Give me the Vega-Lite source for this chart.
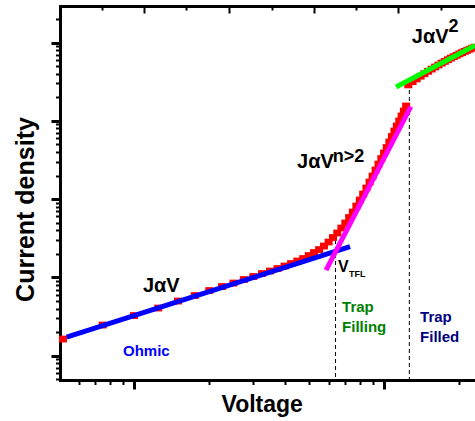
{
  "$schema": "https://vega.github.io/schema/vega-lite/v6.json",
  "width": 415,
  "height": 374,
  "autosize": {"type": "none"},
  "padding": {"left": 60, "top": 6, "right": 0, "bottom": 41},
  "background": "white",
  "config": {"view": {"stroke": null}, "font": "Liberation Sans"},
  "datasets": {
    "measured": [
      {"V":0.52,"J":1.634},{"V":0.75,"J":2.467},{"V":1.0,"J":3.261},{"V":1.25,"J":4.066},{"V":1.5,"J":4.996},
      {"V":1.75,"J":5.872},{"V":2.0,"J":6.803},{"V":2.25,"J":7.653},{"V":2.5,"J":8.482},{"V":2.75,"J":9.402},
      {"V":3.0,"J":10.27},{"V":3.25,"J":11.21},{"V":3.5,"J":12.07},{"V":3.75,"J":12.99},{"V":4.0,"J":13.98},
      {"V":4.25,"J":15.05},{"V":4.5,"J":16.2},{"V":4.75,"J":17.43},{"V":5.0,"J":19.04},{"V":5.25,"J":20.8},
      {"V":5.5,"J":22.71},{"V":5.75,"J":25.18},{"V":6.0,"J":28.32},{"V":6.25,"J":32.33},{"V":6.5,"J":36.9},
      {"V":6.75,"J":42.75},{"V":7.0,"J":49.52},{"V":7.25,"J":58.21},{"V":7.5,"J":68.42},{"V":7.75,"J":81.64},
      {"V":8.0,"J":97.39},{"V":8.25,"J":116.2},{"V":8.5,"J":138.6},{"V":8.75,"J":165.3},{"V":9.0,"J":197.2},
      {"V":9.25,"J":235.3},{"V":9.5,"J":280.7},{"V":9.75,"J":330.0},{"V":10.0,"J":388.0},{"V":10.25,"J":456.0},
      {"V":10.5,"J":536.3},{"V":10.75,"J":630.2},{"V":11.0,"J":741.0},{"V":11.25,"J":858.2},{"V":11.5,"J":994.3},
      {"V":11.75,"J":1152},{"V":12.0,"J":1334},{"V":12.25,"J":1545},
      {"V":12.5,"J":2873},{"V":13.0,"J":3158},{"V":13.5,"J":3429},{"V":14.0,"J":3712},{"V":14.5,"J":3995},
      {"V":15.0,"J":4288},{"V":15.5,"J":4575},{"V":16.0,"J":4866},{"V":16.5,"J":5160},{"V":17.0,"J":5457},
      {"V":17.5,"J":5736},{"V":18.0,"J":6030},{"V":18.5,"J":6321},{"V":19.0,"J":6586},{"V":19.5,"J":6863},
      {"V":20.0,"J":7152},{"V":20.5,"J":7408},{"V":21.0,"J":7696},{"V":21.5,"J":7950},{"V":22.0,"J":8211},
      {"V":22.5,"J":8456},{"V":23.0,"J":8710}
    ],
    "fits": [
      {"fit":"ohmic","V":0.538,"J":1.733},{"fit":"ohmic","V":7.311,"J":24.67},
      {"fit":"trapfill","V":5.861,"J":12.43},{"fit":"trapfill","V":12.79,"J":1514},
      {"fit":"trapfilled","V":11.17,"J":2702},{"fit":"trapfilled","V":23.1,"J":9157}
    ],
    "markers": [
      {"V":6.397,"J":30.04,"J0":0.49},{"V":12.62,"J":2474,"J0":0.49}
    ],
    "main": [
      {"V":1.086,"J":6.508,"t":"JαV"},{"V":4.487,"J":249.6,"t":"JαV"},{"V":12.91,"J":9768,"t":"JαV"}
    ],
    "sup": [
      {"V":6.233,"J":302.2,"t":"n>2"},{"V":18.08,"J":13500,"t":"2"}
    ],
    "vtfl": [{"V":6.546,"J":11.72,"t":"V"}],
    "sub": [{"V":7.244,"J":10.12,"t":"TFL"}],
    "ohmic": [{"V":0.9036,"J":0.991,"t":"Ohmic"}],
    "filling": [{"V":6.792,"J":3.647,"t":"Trap"},{"V":6.792,"J":2.025,"t":"Filling"}],
    "filled": [{"V":13.93,"J":2.718,"t":"Trap"},{"V":13.93,"J":1.510,"t":"Filled"}]
  },
  "encoding": {
    "x": {"field": "V", "type": "quantitative", "scale": {"type": "log", "domain": [0.506, 23.1], "nice": false}, "axis": null},
    "y": {"field": "J", "type": "quantitative", "scale": {"type": "log", "domain": [0.49, 29250], "nice": false}, "axis": null}
  },
  "layer": [
    {
      "data": {"name": "markers"},
      "mark": {"type": "rule", "color": "black", "strokeWidth": 1, "strokeDash": [4, 3]},
      "encoding": {
        "x": {"field": "V", "type": "quantitative", "scale": {"type": "log", "domain": [0.506, 23.1], "nice": false},
          "axis": {"orient": "bottom", "offset": -374, "values": [0.7447, 1.0965, 1.6144, 2.3988, 3.5645, 5.2481, 7.7268, 11.376, 16.904],
            "labels": false, "title": null, "grid": false, "domainColor": "black", "domainWidth": 3, "domainCap": "square",
            "tickColor": "black",
            "tickSize": {"condition": {"test": "datum.value == 1.0965 || datum.value == 2.3988 || datum.value == 5.2481 || datum.value == 11.376", "value": 7}, "value": 4},
            "tickWidth": 2}},
        "y": {"field": "J", "type": "quantitative", "scale": {"type": "log", "domain": [0.49, 29250], "nice": false},
          "axis": {"orient": "left", "values": [0.5, 0.6, 0.7, 0.8, 0.9, 1, 2, 3, 4, 5, 6, 7, 8, 9, 10, 20, 30, 40, 50, 60, 70, 80, 90, 100, 200, 300, 400, 500, 600, 700, 800, 900, 1000, 2000, 3000, 4000, 5000, 6000, 7000, 8000, 9000, 10000, 20000],
            "labels": false, "grid": false, "domainColor": "black", "domainWidth": 3, "domainCap": "square",
            "tickColor": "black",
            "tickSize": {"condition": {"test": "datum.value == 1 || datum.value == 10 || datum.value == 100 || datum.value == 1000 || datum.value == 10000", "value": 9}, "value": 4.5},
            "tickWidth": {"condition": {"test": "datum.value == 1 || datum.value == 10 || datum.value == 100 || datum.value == 1000 || datum.value == 10000", "value": 3}, "value": 2},
            "title": "Current density", "titleFont": "Liberation Sans", "titleFontSize": 25, "titleFontWeight": "bold", "titleColor": "black",
            "titleAngle": -90, "titleX": -26.7, "titleY": 203, "titleBaseline": "alphabetic", "titleAlign": "center"}},
        "y2": {"field": "J0"}
      }
    },
    {
      "data": {"name": "measured"},
      "mark": {"type": "point", "shape": "M-1,-0.85H1V0.85H-1Z", "filled": true, "color": "#ff0000", "opacity": 1, "size": 64, "strokeWidth": 0},
      "encoding": {
        "x": {"field": "V", "type": "quantitative", "scale": {"type": "log", "domain": [0.506, 23.1], "nice": false},
          "axis": {"orient": "bottom", "values": [0.6, 0.7, 0.8, 0.9, 1, 2, 3, 4, 5, 6, 7, 8, 9, 10, 20],
            "labels": false, "grid": false, "domainColor": "black", "domainWidth": 3, "domainCap": "square",
            "tickColor": "black",
            "tickSize": {"condition": {"test": "datum.value == 1 || datum.value == 10", "value": 9}, "value": 4.5},
            "tickWidth": {"condition": {"test": "datum.value == 1 || datum.value == 10", "value": 3}, "value": 2},
            "title": "Voltage", "titleFont": "Liberation Sans", "titleFontSize": 23, "titleFontWeight": "bold", "titleColor": "black",
            "titleX": 201.7, "titleY": 31.7, "titleBaseline": "alphabetic", "titleAlign": "center"}}
      }
    },
    {
      "data": {"name": "fits"},
      "mark": {"type": "line", "strokeWidth": 5, "strokeCap": "butt"},
      "encoding": {
        "color": {"field": "fit", "type": "nominal", "scale": {"domain": ["ohmic", "trapfill", "trapfilled"], "range": ["#0000ff", "#ff00ff", "#00ff00"]}, "legend": null}
      }
    },
    {
      "data": {"name": "main"},
      "mark": {"type": "text", "align": "left", "baseline": "alphabetic", "font": "Liberation Sans", "fontWeight": "bold", "fontSize": 20, "color": "black"},
      "encoding": {"text": {"field": "t"}}
    },
    {
      "data": {"name": "sup"},
      "mark": {"type": "text", "align": "left", "baseline": "alphabetic", "font": "Liberation Sans", "fontWeight": "bold", "fontSize": 18, "color": "black"},
      "encoding": {"text": {"field": "t"}}
    },
    {
      "data": {"name": "vtfl"},
      "mark": {"type": "text", "align": "left", "baseline": "alphabetic", "font": "Liberation Sans", "fontWeight": "bold", "fontSize": 16, "color": "black"},
      "encoding": {"text": {"field": "t"}}
    },
    {
      "data": {"name": "sub"},
      "mark": {"type": "text", "align": "left", "baseline": "alphabetic", "font": "Liberation Sans", "fontWeight": "bold", "fontSize": 9, "color": "black"},
      "encoding": {"text": {"field": "t"}}
    },
    {
      "data": {"name": "ohmic"},
      "mark": {"type": "text", "align": "left", "baseline": "alphabetic", "font": "Liberation Sans", "fontWeight": "bold", "fontSize": 15, "color": "#0000ff"},
      "encoding": {"text": {"field": "t"}}
    },
    {
      "data": {"name": "filling"},
      "mark": {"type": "text", "align": "left", "baseline": "alphabetic", "font": "Liberation Sans", "fontWeight": "bold", "fontSize": 15, "color": "#008000"},
      "encoding": {"text": {"field": "t"}}
    },
    {
      "data": {"name": "filled"},
      "mark": {"type": "text", "align": "left", "baseline": "alphabetic", "font": "Liberation Sans", "fontWeight": "bold", "fontSize": 15, "color": "#000080"},
      "encoding": {"text": {"field": "t"}}
    }
  ],
  "resolve": {"axis": {"x": "independent", "y": "independent"}}
}
